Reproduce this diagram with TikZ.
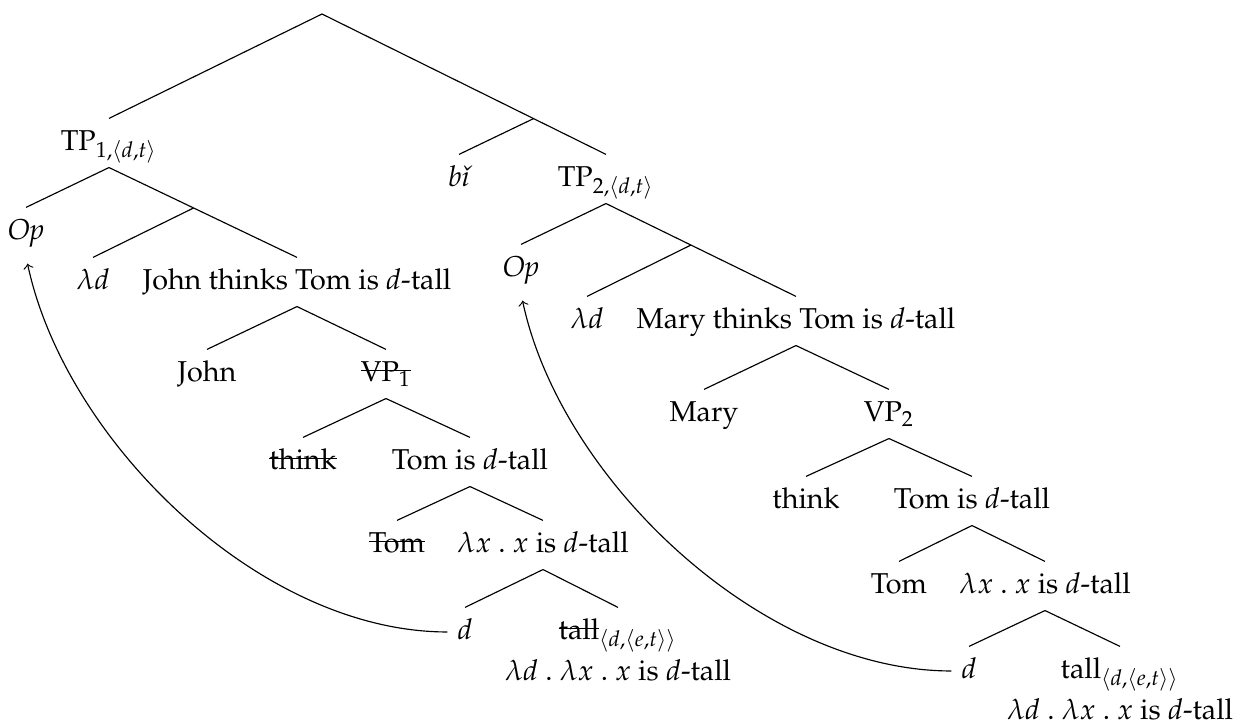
\documentclass[tikz,border=0pt]{standalone}
\usepackage[T1]{fontenc}
\usepackage{mathpazo}
\usetikzlibrary{calc}
\tikzset{
    word/.style={
        anchor=base,
        inner ysep=0pt,
        text height=10.8pt,
        text depth=5.9pt
    },
    movement/.style={
        ->,
        shorten >=2.5pt,
        looseness=0.85
    }
}
\newsavebox{\strikebox}
\newcommand{\struck}[1]{%
    \sbox{\strikebox}{#1}%
    \rlap{\rule[0.72ex]{\wd\strikebox}{0.45pt}}\usebox{\strikebox}%
}
\newcommand{\dtall}{$d$-tall}
\newcommand{\lamx}{$\lambda x$\ .\ $x$ is \dtall}
\newcommand{\tallbox}[1]{%
    \begin{tabular}[t]{@{}c@{}}
        #1$_{\langle d,\langle e,t\rangle\rangle}$\\[2.6pt]
        $\lambda d$\ .\ \lamx
    \end{tabular}%
}

\begin{document}
\begin{tikzpicture}[x=0.348pt, y=-0.348pt]
\useasboundingbox (0,0) rectangle (1246,724);

% ---------------------------------------------------------
% Root
% ---------------------------------------------------------
\coordinate (root) at (322,14);

% ---------------------------------------------------------
% First comparison: TP 1
% ---------------------------------------------------------
\node[word] (tp1)    at (109,150) {TP$_{1,\langle d,t\rangle}$};
\node[word] (op1)    at (26,239)  {\textit{Op}};
\node[word] (lam1)   at (93,289)  {$\lambda d$};
\node[word] (jtt)    at (297,289) {John thinks Tom is \dtall};
\node[word] (john)   at (207,381) {John};
\node[word] (vp1)    at (386,381) {\struck{VP$_1$}};
\node[word] (think1) at (303,469) {\struck{think}};
\node[word] (tit1)   at (470,469) {Tom is \dtall};
\node[word] (tom1)   at (397,552) {\struck{Tom}};
\node[word] (lx1)    at (543,552) {\lamx};
\node[word] (d1)     at (465,639) {$d$};
\node[word] (tall1)  at (618,639) {\tallbox{\struck{tall}}};

% ---------------------------------------------------------
% Second comparison: bi + TP 2
% ---------------------------------------------------------
\node[word] (bi)     at (459,186) {\textit{b\v{\i}}};
\node[word] (tp2)    at (606,186) {TP$_{2,\langle d,t\rangle}$};
\node[word] (op2)    at (521,276) {\textit{Op}};
\node[word] (lam2)   at (587,328) {$\lambda d$};
\node[word] (mtt)    at (796,328) {Mary thinks Tom is \dtall};
\node[word] (mary)   at (704,421) {Mary};
\node[word] (vp2)    at (889,421) {VP$_2$};
\node[word] (think2) at (806,508) {think};
\node[word] (tit2)   at (972,508) {Tom is \dtall};
\node[word] (tom2)   at (899,593) {Tom};
\node[word] (lx2)    at (1045,593) {\lamx};
\node[word] (d2)     at (969,678) {$d$};
\node[word] (tall2)  at (1120,678) {\tallbox{tall}};

% ---------------------------------------------------------
% Branches
% ---------------------------------------------------------
\draw (root) -- (tp1.north);
\draw (root) -- (tp2.north);
\coordinate (mid) at ($(root)!0.745!(tp2.north)$);
\draw (mid) -- (bi.north);

\draw (tp1.south) -- (op1.north);
\draw (tp1.south) -- (jtt.north);
\coordinate (bar1) at ($(tp1.south)!0.45!(jtt.north)$);
\draw (bar1) -- (lam1.north);

\draw (tp2.south) -- (op2.north);
\draw (tp2.south) -- (mtt.north);
\coordinate (bar2) at ($(tp2.south)!0.447!(mtt.north)$);
\draw (bar2) -- (lam2.north);

\foreach \up/\down in {
    jtt/john, jtt/vp1, vp1/think1, vp1/tit1,
    tit1/tom1, tit1/lx1, lx1/d1, lx1/tall1,
    mtt/mary, mtt/vp2, vp2/think2, vp2/tit2,
    tit2/tom2, tit2/lx2, lx2/d2, lx2/tall2}
    \draw (\up.south) -- (\down.north);

% ---------------------------------------------------------
% Movement of d
% ---------------------------------------------------------
\draw[movement] (d1.west) to[out=180, in=-78] (op1.south);
\draw[movement] (d2.west) to[out=180, in=-78] (op2.south);

\end{tikzpicture}
\end{document}
